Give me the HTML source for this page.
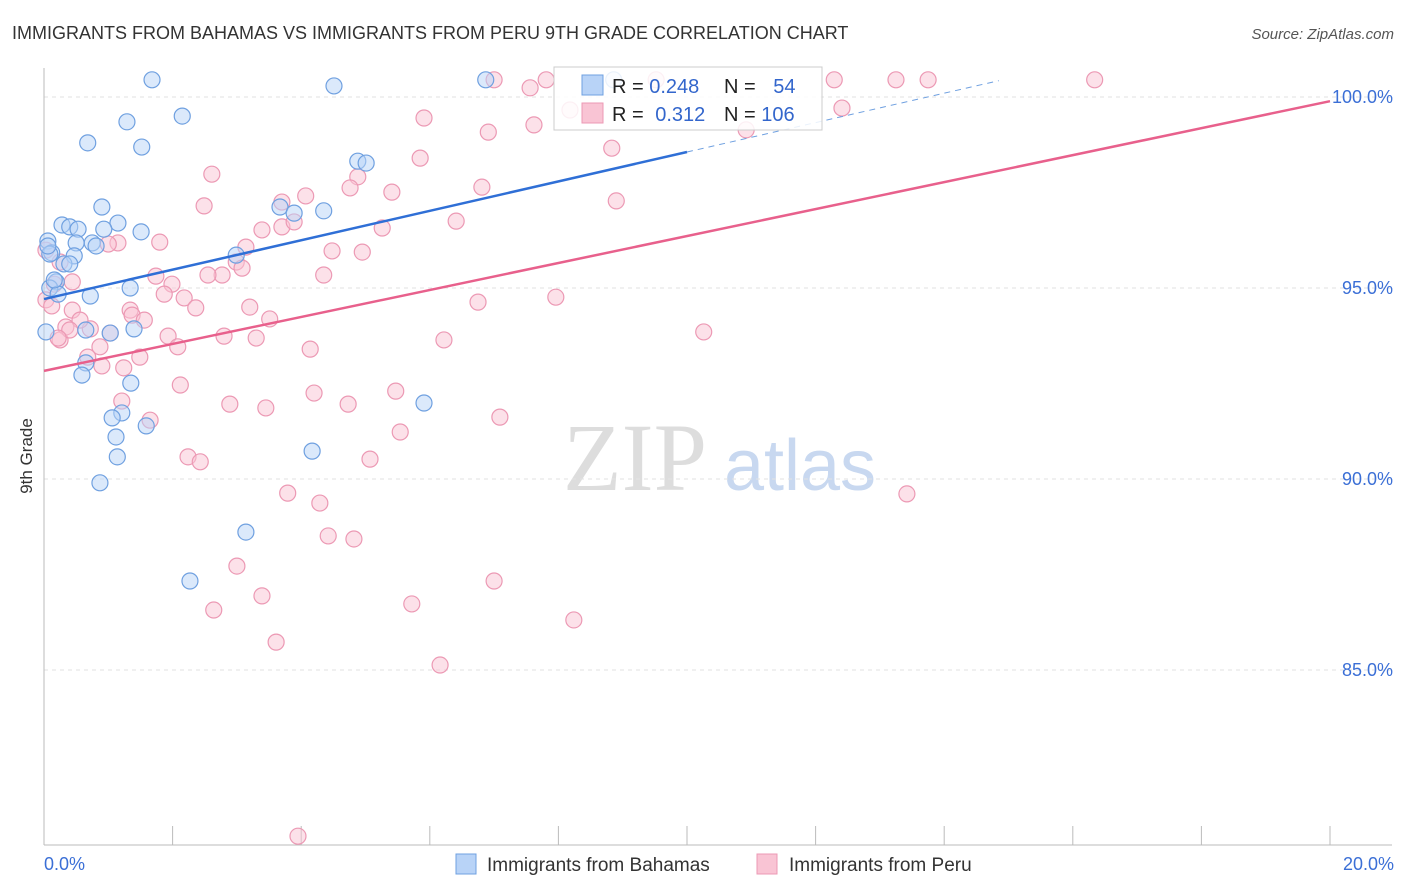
<!DOCTYPE html>
<html><head><meta charset="utf-8"><style>
body{margin:0;background:#fff;font-family:"Liberation Sans",sans-serif;}
#wrap{position:relative;width:1406px;height:892px;overflow:hidden;}
</style></head><body>
<div id="wrap">
<svg id="svg" width="1406" height="892" xmlns="http://www.w3.org/2000/svg">
<text x="12" y="39" font-size="18" fill="#333">IMMIGRANTS FROM BAHAMAS VS IMMIGRANTS FROM PERU 9TH GRADE CORRELATION CHART</text>
<text x="1394" y="39" font-size="15" fill="#555" font-style="italic" text-anchor="end">Source: ZipAtlas.com</text>
<text x="32" y="456" font-size="17" fill="#333" text-anchor="middle" transform="rotate(-90 32 456)">9th Grade</text>
<g>
<text x="635" y="490" font-size="96" fill="#ddd" font-family="Liberation Serif,serif" text-anchor="middle">ZIP</text>
<text x="800" y="490" font-size="72" fill="#c8d8f0" text-anchor="middle">atlas</text>
</g>
<g id="grid"></g><g id="axes"></g><g id="pts"></g><g id="trend"></g>
<g>
<rect x="554" y="67" width="268" height="63" fill="#fff" fill-opacity="0.85" stroke="#ccc"/>
<rect x="582" y="75" width="21" height="20" fill="#b8d3f7" stroke="#6fa0e0"/>
<rect x="582" y="103" width="21" height="20" fill="#f9c4d4" stroke="#ec99b4"/>
<text x="612" y="93" font-size="20" fill="#222">R = <tspan fill="#3366cc">0.248</tspan></text>
<text x="724" y="93" font-size="20" fill="#222">N = <tspan fill="#3366cc" dx="12">54</tspan></text>
<text x="612" y="121" font-size="20" fill="#222">R = <tspan fill="#3366cc" dx="6">0.312</tspan></text>
<text x="724" y="121" font-size="20" fill="#222">N = <tspan fill="#3366cc">106</tspan></text>
</g>
<g>
<rect x="456" y="854" width="20" height="20" fill="#b8d3f7" stroke="#6fa0e0"/>
<text x="487" y="871" font-size="19" fill="#333">Immigrants from Bahamas</text>
<rect x="757" y="854" width="20" height="20" fill="#f9c4d4" stroke="#ec99b4"/>
<text x="789" y="871" font-size="19" fill="#333">Immigrants from Peru</text>
</g>
</svg>
</div>
<script>
const yTicks=[100,95,90,85];
const yTickLabels=["100.0%","95.0%","90.0%","85.0%"];
const xTickLabels=["0.0%","20.0%"];
const bahamasX=[1.68,6.87,4.51,8.86,1.29,2.15,0.68,1.52,4.88,5.01,0.90,3.67,3.89,4.35,0.28,0.40,0.53,1.15,0.93,1.51,0.06,0.50,0.75,0.81,0.12,0.47,0.31,0.40,2.99,0.19,0.09,0.22,0.72,1.34,0.03,0.65,1.03,1.40,0.65,0.59,1.35,1.21,1.06,1.59,1.12,1.14,5.91,4.17,0.87,3.14,2.27,0.09,0.06,0.16];
const bahamasY=[100.45,100.45,100.29,100.45,99.35,99.50,98.80,98.69,98.32,98.27,97.12,97.12,96.96,97.02,96.65,96.60,96.54,96.70,96.54,96.47,96.23,96.18,96.18,96.10,95.92,95.84,95.63,95.63,95.86,95.16,95.00,94.84,94.79,95.00,93.85,93.90,93.82,93.93,93.04,92.72,92.51,91.73,91.60,91.39,91.10,90.58,91.99,90.73,89.90,88.61,87.33,95.89,96.10,95.21];
const peruX=[7.00,7.81,9.52,12.29,13.25,13.75,16.34,7.56,5.91,6.91,7.62,8.18,12.41,10.92,8.83,5.85,2.61,6.81,4.88,4.76,5.41,3.70,4.07,8.90,2.49,6.41,3.70,3.39,3.89,5.26,1.80,1.15,1.00,3.14,2.99,3.08,4.48,4.95,1.74,1.99,2.77,2.55,4.35,6.75,7.96,1.87,2.18,1.34,3.20,2.36,3.51,1.37,1.56,1.03,0.72,0.34,0.25,2.80,3.30,1.93,2.08,0.87,1.49,0.68,4.14,6.22,10.26,1.24,0.90,2.12,4.20,5.47,2.89,3.45,4.73,1.21,1.65,7.09,5.54,2.24,2.43,5.07,3.79,4.29,13.42,4.42,4.82,3.00,3.39,7.00,2.64,5.72,3.61,8.24,6.16,3.95,0.03,0.16,0.44,0.25,0.03,0.44,0.56,0.40,0.22,0.12];
const peruY=[100.45,100.45,100.45,100.45,100.45,100.45,100.45,100.24,99.45,99.08,99.27,99.66,99.71,99.14,98.66,98.40,97.98,97.64,97.91,97.62,97.51,97.25,97.41,97.28,97.15,96.75,96.60,96.52,96.73,96.57,96.20,96.18,96.15,96.07,95.68,95.52,95.97,95.94,95.31,95.10,95.34,95.34,95.34,94.63,94.76,94.84,94.74,94.42,94.50,94.48,94.19,94.29,94.16,93.82,93.93,93.98,93.64,93.74,93.69,93.74,93.46,93.46,93.19,93.19,93.40,93.64,93.85,92.91,92.96,92.46,92.25,92.30,91.96,91.86,91.96,92.04,91.54,91.62,91.23,90.58,90.45,90.52,89.63,89.37,89.61,88.51,88.43,87.72,86.94,87.33,86.57,86.73,85.73,86.31,85.13,80.65,94.69,95.10,95.16,95.68,95.99,94.42,94.16,93.90,93.69,94.53];
const bahamasTrend=[94.71,0.385];
const peruTrend=[92.83,0.353];
const xS=v=>44+v*64.3;
const yS=v=>97+(100-v)*38.2;
const NS="http://www.w3.org/2000/svg";
function mk(tag,attrs,parent){const e=document.createElementNS(NS,tag);for(const k in attrs)e.setAttribute(k,attrs[k]);parent.appendChild(e);return e;}
const grid=document.getElementById('grid'),axes=document.getElementById('axes'),pts=document.getElementById('pts'),trend=document.getElementById('trend');
yTicks.forEach((t,i)=>{
 const l=mk('line',{x1:44,x2:1392,y1:yS(t),y2:yS(t),stroke:'#e2e2e2','stroke-dasharray':'4,4'},grid);
 
 
 const tx=mk('text',{x:1393,y:yS(t)+6,'font-size':18,fill:'#3b6fd6','text-anchor':'end'},axes);
 tx.textContent=yTickLabels[i];
 
 
});
const ax=mk('line',{x1:44,x2:44,y1:68,y2:845,stroke:'#bbb'},axes);


const bx=mk('line',{x1:44,x2:1392,y1:845,y2:845,stroke:'#bbb'},axes);


for(let i=0;i<=10;i++){
 const t=mk('line',{x1:xS(i*2),x2:xS(i*2),y1:826,y2:845,stroke:'#bbb'},axes);
 
 
}
[[0,'start',44],[20,'end',1394]].forEach((d,i)=>{
 const t=mk('text',{x:d[2],y:870,'font-size':18,fill:'#3b6fd6','text-anchor':d[1]},axes);
 t.textContent=xTickLabels[i];
 
 
});
peruX.forEach((x,i)=>{
 const c=mk('circle',{cx:xS(x),cy:yS(peruY[i]),r:8,fill:'#f9c4d4','fill-opacity':0.5,stroke:'#ec99b4','stroke-width':1.2},pts);
 
 
});
bahamasX.forEach((x,i)=>{
 const c=mk('circle',{cx:xS(x),cy:yS(bahamasY[i]),r:8,fill:'#b8d3f7','fill-opacity':0.5,stroke:'#6fa0e0','stroke-width':1.2},pts);
 
 
});
const bt=v=>bahamasTrend[0]+bahamasTrend[1]*v, pt=v=>peruTrend[0]+peruTrend[1]*v;
const l1=mk('line',{x1:xS(0),y1:yS(bt(0)),x2:xS(10),y2:yS(bt(10)),stroke:'#2f6fd6','stroke-width':2.5},trend);


const l2=mk('line',{x1:xS(10),y1:yS(bt(10)),x2:xS(14.85),y2:yS(bt(14.85)),stroke:'#6fa0e0','stroke-width':1,'stroke-dasharray':'6,5'},trend);


const l3=mk('line',{x1:xS(0),y1:yS(pt(0)),x2:xS(20),y2:yS(pt(20)),stroke:'#e8608c','stroke-width':2.5},trend);


</script>
</body></html>
